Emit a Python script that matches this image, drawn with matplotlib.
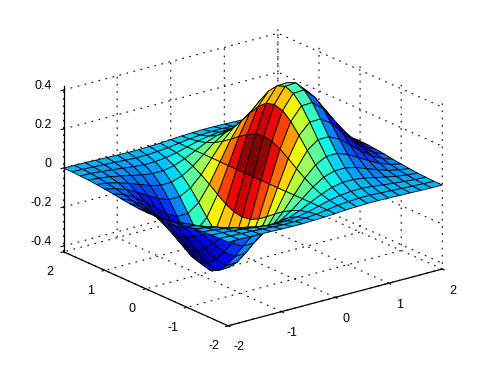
import matplotlib
matplotlib.use("Agg")
import matplotlib.pyplot as plt
import numpy as np
from matplotlib.colors import Normalize

x_values = [-2.0, -1.8, -1.6, -1.4, -1.2, -1.0, -0.8, -0.6, -0.4, -0.2, 0.0,
            0.2, 0.4, 0.6, 0.8, 1.0, 1.2, 1.4, 1.6, 1.8, 2.0]
y_values = list(x_values)

# surface heights, one row per |y|
y00 = [-.037, -.071, -.124, -.197, -.284, -.368, -.422, -.419, -.341, -.192, 0, .192, .341, .419, .422, .368, .284, .197, .124, .071, .037]
y02 = [-.035, -.068, -.119, -.190, -.273, -.353, -.405, -.402, -.328, -.185, 0, .185, .328, .402, .405, .353, .273, .190, .119, .068, .035]
y04 = [-.031, -.060, -.105, -.168, -.242, -.314, -.359, -.357, -.291, -.164, 0, .164, .291, .357, .359, .314, .242, .168, .105, .060, .031]
y06 = [-.026, -.049, -.086, -.138, -.198, -.257, -.294, -.292, -.238, -.134, 0, .134, .238, .292, .294, .257, .198, .138, .086, .049, .026]
y08 = [-.019, -.037, -.065, -.104, -.150, -.194, -.222, -.221, -.180, -.101, 0, .101, .180, .221, .222, .194, .150, .104, .065, .037, .019]
y10 = [-.014, -.026, -.046, -.073, -.105, -.135, -.155, -.154, -.125, -.071, 0, .071, .125, .154, .155, .135, .105, .073, .046, .026, .014]
y12 = [-.009, -.017, -.029, -.047, -.067, -.087, -.100, -.099, -.081, -.046, 0, .046, .081, .099, .100, .087, .067, .047, .029, .017, .009]
y14 = [-.005, -.010, -.017, -.028, -.040, -.052, -.059, -.059, -.048, -.027, 0, .027, .048, .059, .059, .052, .040, .028, .017, .010, .005]
y16 = [-.003, -.005, -.010, -.015, -.022, -.028, -.033, -.032, -.026, -.015, 0, .015, .026, .032, .033, .028, .022, .015, .010, .005, .003]
y18 = [-.001, -.003, -.005, -.008, -.011, -.014, -.017, -.016, -.013, -.008, 0, .008, .013, .016, .017, .014, .011, .008, .005, .003, .001]
y20 = [-.001, -.001, -.002, -.004, -.005, -.007, -.008, -.008, -.006, -.004, 0, .004, .006, .008, .008, .007, .005, .004, .002, .001, .001]

z_rows = [y20, y18, y16, y14, y12, y10, y08, y06, y04, y02, y00,
          y02, y04, y06, y08, y10, y12, y14, y16, y18, y20]

xy_ticks = [-2, -1, 0, 1, 2]
z_ticks = [-0.4, -0.2, 0, 0.2, 0.4]
z_ticklabels = ["-0.4", "-0.2", "0", "0.2", "0.4"]

plt.rcParams["font.family"] = ["Liberation Sans", "DejaVu Sans"]
plt.rcParams["font.size"] = 9
plt.rcParams["axes.unicode_minus"] = False
plt.rcParams["grid.color"] = "black"
plt.rcParams["grid.linewidth"] = 0.8
plt.rcParams["grid.linestyle"] = (0, (1.5, 5))

X, Y = np.meshgrid(x_values, y_values)
Z = np.array(z_rows)

# faces are coloured by the slope along x, not by height
slope = np.gradient(Z, axis=1)
jet = plt.get_cmap("jet", 64)
colors = jet(Normalize(slope.min(), slope.max())(slope))

fig = plt.figure(figsize=(4.9, 3.67), dpi=100)
ax = fig.add_axes([64.5 / 490, 1.0 / 367, 367 / 490, 1], projection="3d", proj_type="ortho")
ax.view_init(elev=20.2, azim=-127.5)
ax.set_box_aspect((1, 1, 0.654), zoom=1.113)

surf = ax.plot_surface(X, Y, Z, facecolors=colors, rstride=1, cstride=1, shade=False,
                       edgecolor="black", linewidth=0.6, antialiased=True)
surf.set_clip_on(False)

ax.set_xlim(-2, 2, view_margin=0)
ax.set_ylim(-2, 2, view_margin=0)
ax.set_zlim(-0.43, 0.42, view_margin=0)
ax.set_xticks(xy_ticks)
ax.set_yticks(xy_ticks)
ax.set_zticks(z_ticks)
ax.set_zticklabels(z_ticklabels)

for axis in (ax.xaxis, ax.yaxis, ax.zaxis):
    axis.set_pane_color((1, 1, 1, 0))
    axis.pane.set_edgecolor("none")
    axis.line.set_color("black")
    axis.line.set_linewidth(0.9)
    axis._axinfo["tick"]["inward_factor"] = 0.15
    axis._axinfo["tick"]["outward_factor"] = 0.0
ax.zaxis.set_ticks_position("upper")
ax.tick_params(axis="x", pad=1)
ax.tick_params(axis="y", pad=1)
ax.tick_params(axis="z", pad=-3.7)

for label in ax.get_zticklabels():
    label.set_ha("right")
    label.set_va("baseline")

fig.savefig("out.png", dpi=100)
